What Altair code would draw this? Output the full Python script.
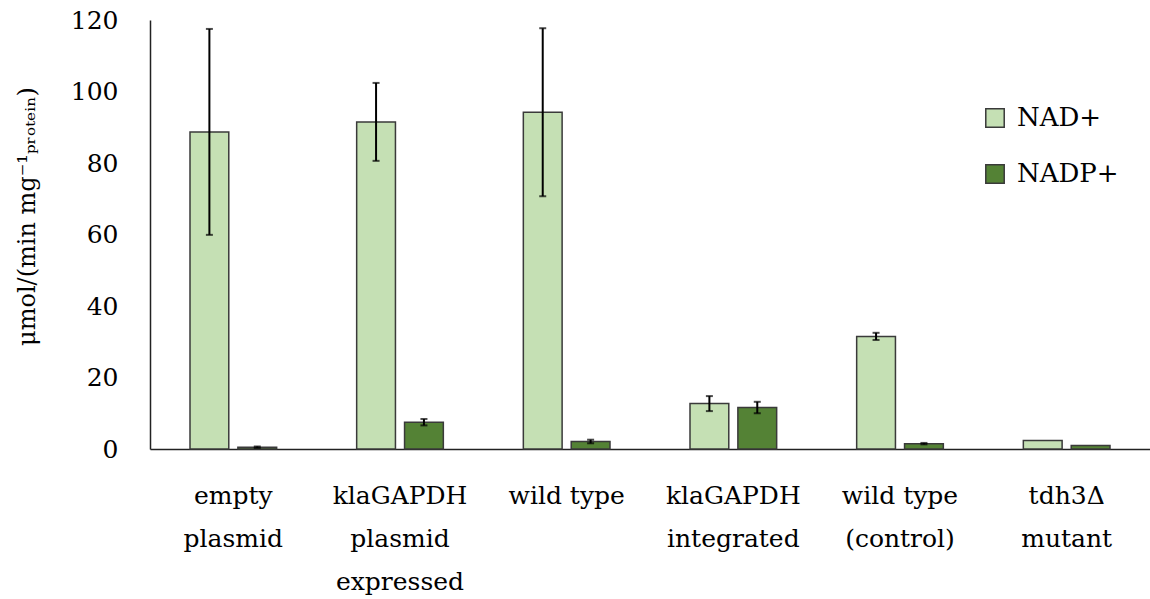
import altair as alt
import pandas as pd

# Strains (x categories), multi-line labels split on "\n"
strains = [
    "empty\nplasmid",
    "klaGAPDH\nplasmid\nexpressed",
    "wild type",
    "klaGAPDH\nintegrated",
    "wild type\n(control)",
    "tdh3Δ\nmutant",
]
cofactors = ["NAD+", "NADP+"]

# Specific activity (µmol/(min mg protein)) and standard deviation
nad_mean = [88.7, 91.5, 94.2, 12.7, 31.5, 2.4]
nad_err = [28.8, 10.9, 23.5, 2.1, 1.0, 0.0]
nadp_mean = [0.5, 7.5, 2.1, 11.6, 1.5, 1.0]
nadp_err = [0.2, 0.9, 0.5, 1.6, 0.2, 0.0]

rows = []
for i, s in enumerate(strains):
    rows.append({"strain": s, "cofactor": "NAD+", "mean": nad_mean[i], "err": nad_err[i]})
    rows.append({"strain": s, "cofactor": "NADP+", "mean": nadp_mean[i], "err": nadp_err[i]})
df = pd.DataFrame(rows)

FONT = "DejaVu Serif"
colors = ["#C5E0B4", "#548235"]

x_enc = alt.X(
    "strain:N",
    sort=strains,
    scale=alt.Scale(paddingInner=0.48, paddingOuter=0.24),
    axis=alt.Axis(
        title=None,
        labelAngle=0,
        labelExpr="split(datum.label, '\\n')",
        labelFontSize=25,
        labelFont=FONT,
        labelColor="#000000",
        labelPadding=34,
        labelLineHeight=43,
        labelBaseline="top",
        ticks=False,
        domainColor="#222222",
        domainWidth=1.5,
    ),
)
xoff = alt.XOffset(
    "cofactor:N", sort=cofactors, scale=alt.Scale(paddingInner=0.19, paddingOuter=0)
)
y_scale = alt.Scale(domain=[0, 120], nice=False)

bars = alt.Chart(df).mark_bar(stroke="#3a3a3a", strokeWidth=1.5).encode(
    x=x_enc,
    xOffset=xoff,
    y=alt.Y(
        "mean:Q",
        scale=y_scale,
        axis=alt.Axis(
            title="μmol/(min mg⁻¹ₚᵣₒₜₑᵢₙ)",
            titleFont=FONT,
            titleFontSize=24,
            titleFontWeight="normal",
            titleColor="#000000",
            titlePadding=31,
            titleY=196,
            values=[0, 20, 40, 60, 80, 100, 120],
            labelFontSize=25,
            labelFont=FONT,
            labelColor="#000000",
            labelPadding=32,
            ticks=False,
            grid=False,
            domainColor="#222222",
            domainWidth=1.5,
        ),
    ),
    fill=alt.Fill(
        "cofactor:N",
        sort=cofactors,
        scale=alt.Scale(domain=cofactors, range=colors),
        legend=alt.Legend(
            title=None,
            orient="none",
            legendX=832,
            legendY=85,
            symbolType="square",
            symbolSize=340,
            symbolStrokeColor="#3a3a3a",
            symbolStrokeWidth=1.5,
            labelFont=FONT,
            labelFontSize=26,
            labelColor="#000000",
            labelOffset=9,
            rowPadding=30,
        ),
    ),
)

err_base = alt.Chart(df).transform_filter("datum.err > 0").transform_calculate(
    lo="datum.mean - datum.err", hi="datum.mean + datum.err"
)

err_rule = err_base.mark_rule(color="#000000", strokeWidth=2).encode(
    x=alt.X("strain:N", sort=strains),
    xOffset=xoff,
    y=alt.Y("lo:Q", scale=y_scale),
    y2="hi:Q",
)
cap_hi = err_base.mark_tick(color="#000000", thickness=2, size=7).encode(
    x=alt.X("strain:N", sort=strains),
    xOffset=xoff,
    y=alt.Y("hi:Q", scale=y_scale),
)
cap_lo = err_base.mark_tick(color="#000000", thickness=2, size=7).encode(
    x=alt.X("strain:N", sort=strains),
    xOffset=xoff,
    y=alt.Y("lo:Q", scale=y_scale),
)

chart = (
    alt.layer(bars, err_rule, cap_hi, cap_lo)
    .properties(
        width=1000,
        height=429,
        autosize=alt.AutoSizeParams(type="none"),
        padding={"left": 150, "top": 20, "right": 0, "bottom": 150},
        background="#ffffff",
    )
    .configure_view(stroke=None)
)

chart.save("out.html", embed_options={"renderer": "svg", "actions": False})
